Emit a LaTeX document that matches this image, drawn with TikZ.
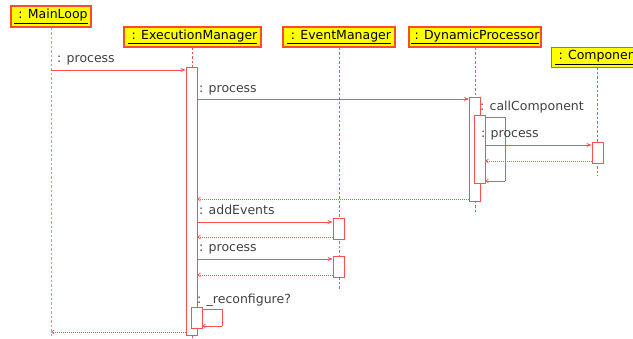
\documentclass[tikz,border=0pt]{standalone}
\usepackage{fontspec}
\setmainfont{DejaVu Sans}
\usetikzlibrary{arrows.meta}
\definecolor{ln}{HTML}{FF4F4F}
\definecolor{hdb}{HTML}{FF4A30}
\definecolor{hdf}{HTML}{FFFF00}
\definecolor{txt}{HTML}{404040}
\tikzset{
  hdr/.style={draw=hdb, fill=hdf, line width=1.3pt, minimum height=20, inner sep=0, font=\fontsize{12.5}{14}\selectfont, text=black},
  life/.style={draw=ln, line width=0.7pt, dash pattern=on 2.5pt off 2pt},
  act/.style={draw=ln, fill=white, line width=0.9pt, minimum width=11, inner sep=0},
  msg/.style={draw=ln, line width=0.7pt, -{Stealth[length=5pt,width=4pt]}},
  ret/.style={draw=ln, line width=0.7pt, dash pattern=on 1pt off 1pt, -{Straight Barb[length=2.5pt,width=4pt]}},
  selfret/.style={draw=ln, line width=0.7pt, -{Straight Barb[length=2.5pt,width=4pt]}},
  lbl/.style={anchor=base west, inner sep=0, text=txt, font=\fontsize{12.5}{14}\selectfont},
}
\begin{document}
\begin{tikzpicture}[x=1pt,y=-1pt]
\useasboundingbox (0,0) rectangle (633,338);
\clip (0,0) rectangle (633,338);
% headers
\node[hdr, minimum width=80, minimum height=21] (ml) at (51,16.5) {\underline{ : MainLoop}};
\node[hdr, minimum width=137] (em) at (192.5,37) {\underline{ : ExecutionManager}};
\node[hdr, minimum width=112] (ev) at (339,37) {\underline{ : EventManager}};
\node[hdr, minimum width=132] (dp) at (475,37) {\underline{ : DynamicProcessor}};
\node[hdr, minimum width=92, anchor=west] (co) at (551,57.5) {\underline{ : Component}};
% lifelines
\coordinate (mlend) at (51,338);
\coordinate (emend) at (192,338);
\coordinate (evend) at (339,289);
\coordinate (dpend) at (475,213);
\coordinate (coend) at (597,176);
\draw[life, draw=ln!70] (ml.south) -- (mlend);
\draw[life] (192,47) -- (emend);
\draw[life] (ev.south) -- (evend);
\draw[life] (dp.south) -- (dpend);
\draw[life] (597,67) -- (coend);
% activations
\node[act, minimum height=268] (ea) at (191.5,201) {};
\node[act, minimum height=104] (da) at (475,149) {};
\coordinate (cl1) at (505,117);
\coordinate (cl2) at (505,181);
\draw[ln, line width=0.7pt] (da.east |- cl1) -- (cl1) -- (cl2);
\node[act, minimum height=68] (db) at (479.5,149) {};
\draw[selfret] (cl2) -- (db.east |- cl2);
\node[act, minimum height=21] (ca) at (597.5,152.5) {};
\node[act, minimum height=21] (va1) at (338.5,228.5) {};
\node[act, minimum height=21] (va2) at (338.5,266.5) {};
% messages
\draw[msg] (ml |- 0,70) -- (ea.west |- 0,70);
\node[lbl] (l1) at (57,62) {: process};
\draw[msg] (ea.east |- 0,99) -- (da.west |- 0,99);
\node[lbl] (l2) at (199,92) {: process};
\node[lbl] (l3) at (480,110) {: callComponent};
\draw[msg] (db.east |- 0,145) -- (ca.west |- 0,145);
\node[lbl] (l4) at (481,137) {: process};
\draw[ret] (ca.west |- 0,161) -- (db.east |- 0,161);
\draw[ret] (da.west |- 0,199) -- (ea.east |- 0,199);
\draw[msg] (ea.east |- 0,222) -- (va1.west |- 0,222);
\node[lbl] (l5) at (199,214) {: addEvents};
\draw[ret] (va1.west |- 0,237) -- (ea.east |- 0,237);
\draw[msg] (ea.east |- 0,259) -- (va2.west |- 0,259);
\node[lbl] (l6) at (199,251) {: process};
\draw[ret] (va2.west |- 0,275) -- (ea.east |- 0,275);
\node[lbl] (l7) at (197,303) {: \_reconfigure?};
\node[act, minimum height=21] (eb) at (196.5,317.5) {};
\coordinate (rc1) at (222,309);
\coordinate (rc2) at (222,326);
\draw[ln, line width=0.7pt] (eb.east |- rc1) -- (rc1) -- (rc2);
\draw[selfret] (rc2) -- (eb.east |- rc2);
\draw[ret] (ea.west |- 0,332) -- (ml |- 0,332);
\end{tikzpicture}
\end{document}
